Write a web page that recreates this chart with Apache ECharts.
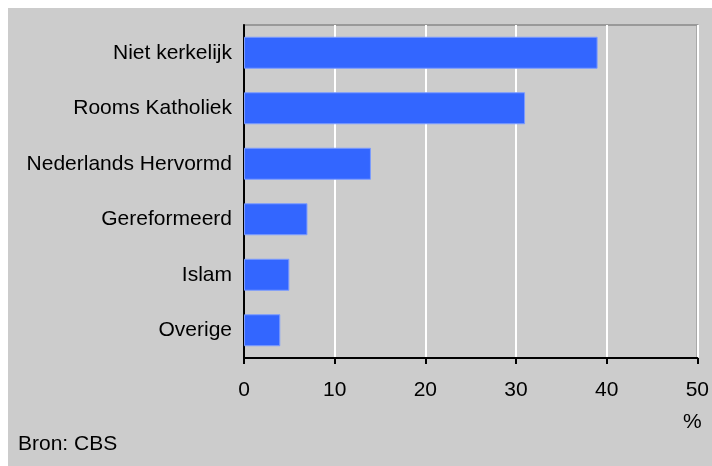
<!DOCTYPE html>
<html>
<head>
<meta charset="utf-8">
<script src="https://cdn.jsdelivr.net/npm/echarts@6/dist/echarts.min.js"></script>
<style>
html,body{margin:0;padding:0;background:#ffffff;}
#chart{position:absolute;left:8px;top:8px;width:704px;height:458px;}
</style>
</head>
<body>
<div id="chart"></div>
<script>
var categories = ['Niet kerkelijk', 'Rooms Katholiek', 'Nederlands Hervormd', 'Gereformeerd', 'Islam', 'Overige'];
var values = [39, 31, 14, 7, 5, 4];
var xTicks = [0, 10, 20, 30, 40, 50];
var unitLabel = '%';
var sourceLabel = 'Bron: CBS';

var font = 'Liberation Sans, Arial, sans-serif';
var chart = echarts.init(document.getElementById('chart'), null, {renderer: 'canvas'});
chart.setOption({
  backgroundColor: '#cccccc',
  animation: false,
  grid: {
    left: 236, top: 17, right: 14, bottom: 108,
    show: true, borderColor: '#999999', borderWidth: 2, backgroundColor: 'transparent'
  },
  xAxis: {
    type: 'value',
    min: xTicks[0], max: xTicks[xTicks.length - 1], interval: 10,
    axisLine: {show: true, lineStyle: {color: '#000', width: 2}},
    axisTick: {show: true, length: 6, lineStyle: {color: '#000', width: 2}},
    axisLabel: {color: '#000', fontFamily: font, fontSize: 21, margin: 22},
    splitLine: {show: true, lineStyle: {color: '#ffffff', width: 2}}
  },
  yAxis: {
    type: 'category',
    data: categories,
    inverse: true,
    axisLine: {show: true, lineStyle: {color: '#000', width: 2}},
    axisTick: {show: false},
    axisLabel: {color: '#000', fontFamily: font, fontSize: 21, margin: 12},
    splitLine: {show: false}
  },
  series: [{
    type: 'bar',
    data: values,
    barWidth: 32,
    itemStyle: {color: '#3366ff', borderColor: '#7c9cff', borderWidth: 1}
  }],
  graphic: [
    {type: 'text', left: 675, top: 404, style: {text: unitLabel, font: '21px ' + font, fill: '#000'}},
    {type: 'text', left: 10, top: 426, style: {text: sourceLabel, font: '21px ' + font, fill: '#000'}}
  ]
});
</script>
</body>
</html>
